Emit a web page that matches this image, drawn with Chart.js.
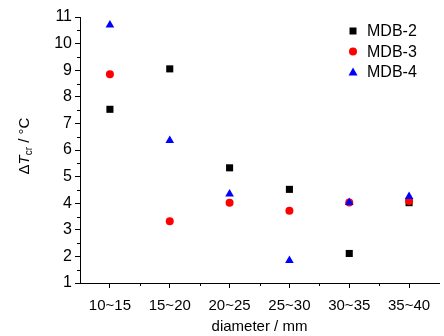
<!DOCTYPE html>
<html>
<head>
<meta charset="utf-8">
<script src="https://cdn.jsdelivr.net/npm/chart.js@4/dist/chart.umd.min.js"></script>
<style>
  html, body { margin: 0; padding: 0; background: #fff; }
  #wrap { width: 444px; height: 336px; }
</style>
</head>
<body>
<div id="wrap"><canvas id="grafico"></canvas></div>
<script>
// dados
const categorias = ['10~15', '15~20', '20~25', '25~30', '30~35', '35~40'];
const mdb2 = [7.53, 9.05, 5.33, 4.52, 2.11, 4.02];
const mdb3 = [8.85, 3.32, 4.02, 3.72, 4.03, 4.08];
const mdb4 = [10.7, 6.36, 4.35, 1.85, 4.03, 4.25];
const yTicks = [1, 2, 3, 4, 5, 6, 7, 8, 9, 10, 11];

const FONTE = '"Liberation Sans", Arial, sans-serif';

// ticks menores + titulo do eixo y + legenda
const extras = {
    id: 'extras',
    afterDraw(chart) {
        const ctx = chart.ctx;
        const x = chart.scales.x, y = chart.scales.y;
        const area = chart.chartArea;
        ctx.save();
        ctx.strokeStyle = '#000';
        ctx.lineWidth = 1;
        // ticks menores no y (meio de cada unidade)
        for (let v = yTicks[0] + 0.5; v < yTicks[yTicks.length - 1]; v += 1) {
            const py = Math.round(y.getPixelForValue(v)) + 0.5;
            ctx.beginPath();
            ctx.moveTo(area.left - 3, py);
            ctx.lineTo(area.left, py);
            ctx.stroke();
        }
        // ticks menores no x (entre categorias)
        for (let i = 0; i < categorias.length - 1; i++) {
            const px = Math.round((x.getPixelForValue(i) + x.getPixelForValue(i + 1)) / 2) + 0.5;
            ctx.beginPath();
            ctx.moveTo(px, area.bottom);
            ctx.lineTo(px, area.bottom + 3);
            ctx.stroke();
        }

        // titulo do eixo y: ΔTcr / °C
        ctx.fillStyle = '#000';
        ctx.textBaseline = 'middle';
        const partes = [
            { t: 'Δ', f: '15px ' + FONTE, dy: 0 },
            { t: 'T', f: 'italic 15px ' + FONTE, dy: 0 },
            { t: 'cr', f: '10px ' + FONTE, dy: 4 },
            { t: ' / °C', f: '15px ' + FONTE, dy: 0 }
        ];
        let total = 0;
        partes.forEach(p => { ctx.font = p.f; p.w = ctx.measureText(p.t).width; total += p.w; });
        ctx.translate(25, (area.top + area.bottom) / 2 - 4);
        ctx.rotate(-Math.PI / 2);
        let cx = -total / 2;
        partes.forEach(p => {
            ctx.font = p.f;
            ctx.textAlign = 'left';
            ctx.fillText(p.t, cx, p.dy);
            cx += p.w;
        });
        ctx.setTransform(1, 0, 0, 1, 0, 0);

        // legenda
        const lx = area.right - 86, ly0 = area.top + 14;
        chart.data.datasets.forEach((ds, i) => {
            const ly = ly0 + i * 20.5;
            ctx.fillStyle = ds.backgroundColor;
            ctx.beginPath();
            if (ds.pointStyle === 'rect') {
                ctx.fillRect(lx - 3.5, ly - 3.5, 7, 7);
            } else if (ds.pointStyle === 'circle') {
                ctx.arc(lx, ly, 4, 0, Math.PI * 2);
                ctx.fill();
            } else {
                ctx.moveTo(lx, ly - 4.5);
                ctx.lineTo(lx + 4.5, ly + 3.5);
                ctx.lineTo(lx - 4.5, ly + 3.5);
                ctx.closePath();
                ctx.fill();
            }
            ctx.fillStyle = '#000';
            ctx.font = '16px ' + FONTE;
            ctx.textAlign = 'left';
            ctx.textBaseline = 'middle';
            ctx.fillText(ds.label, lx + 14, ly + 1);
        });
        ctx.restore();
    }
};

const ctxGrafico = document.getElementById('grafico');
new Chart(ctxGrafico, {
    type: 'scatter',
    data: {
        labels: categorias,
        datasets: [
            { label: 'MDB-2', data: mdb2, pointStyle: 'rect', pointRadius: 5, backgroundColor: '#000000', borderWidth: 0, order: 2 },
            { label: 'MDB-3', data: mdb3, pointStyle: 'circle', pointRadius: 4, backgroundColor: '#ff0000', borderWidth: 0, order: 1 },
            { label: 'MDB-4', data: mdb4, pointStyle: 'triangle', pointRadius: 5, backgroundColor: '#0000ff', borderWidth: 0, order: 0 }
        ]
    },
    options: {
        responsive: true,
        maintainAspectRatio: false,
        animation: false,
        layout: { padding: { top: 17, right: 1, left: 0, bottom: 0 } },
        plugins: { legend: { display: false }, tooltip: { enabled: false } },
        scales: {
            x: {
                type: 'category',
                offset: true,
                afterFit: s => { s.height = 53; },
                border: { display: true, color: '#000', width: 1 },
                grid: { offset: false, drawOnChartArea: false, drawTicks: true, tickLength: 5, color: '#000' },
                ticks: { color: '#000', font: { family: FONTE, size: 15 }, padding: 9, maxRotation: 0, autoSkip: false },
                title: { display: true, text: 'diameter / mm', color: '#000', font: { family: FONTE, size: 15 }, padding: { top: 0, bottom: 0 } }
            },
            y: {
                min: yTicks[0],
                max: yTicks[yTicks.length - 1],
                afterFit: s => { s.width = 80; },
                afterBuildTicks: s => { s.ticks = yTicks.map(v => ({ value: v })); },
                border: { display: true, color: '#000', width: 1 },
                grid: { drawOnChartArea: false, drawTicks: true, tickLength: 5, color: '#000' },
                ticks: { color: '#000', font: { family: FONTE, size: 16 }, padding: 3 }
            }
        }
    },
    plugins: [extras]
});
</script>
</body>
</html>
